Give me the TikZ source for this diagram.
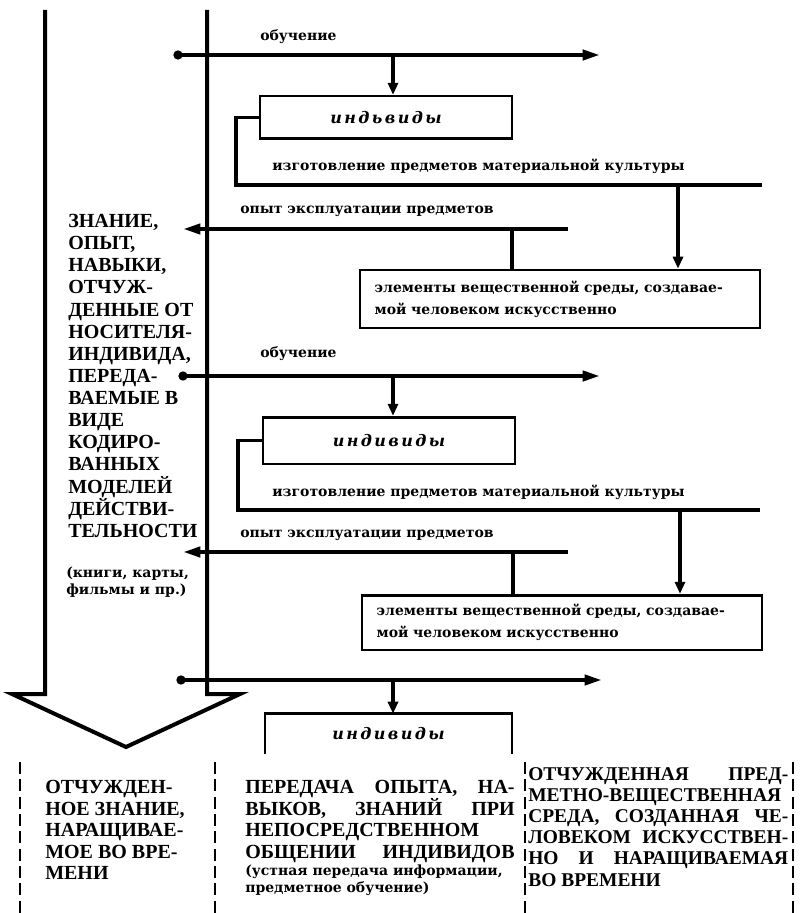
\documentclass[tikz,border=0pt]{standalone}
\usepackage{fontspec}
\setmainfont{Liberation Serif}
\newfontfamily\labelfont{DejaVu Serif}
\newfontfamily\indfont[LetterSpace=15]{DejaVu Serif}
\usetikzlibrary{arrows.meta}

\begin{document}
\begin{tikzpicture}[x=0.75pt, y=-0.75pt,
        axis/.style={line width=3pt},
        link/.style={line width=2.5pt},
        frame/.style={line width=2pt},
        harr/.style={line width=3pt, -{Triangle[length=13pt, width=7.5pt]}},
        varr/.style={line width=2.5pt, -{Triangle[length=9pt, width=7.5pt]}},
        dot/.style={shape=circle, fill=black, inner sep=0pt, minimum size=7pt},
        box/.style={draw, frame, inner sep=0pt},
        ind/.style={font=\indfont\bfseries\itshape\fontsize{12}{14}\selectfont},
        small/.style={font=\labelfont\bfseries\fontsize{10.5}{16.5}\selectfont},
        lbl/.style={small, inner sep=0pt, anchor=west},
        caps/.style={font=\bfseries\fontsize{15}{16.2}\selectfont, inner sep=0pt, anchor=north west},
        note/.style={font=\labelfont\bfseries\fontsize{10.5}{12.5}\selectfont, inner sep=0pt, anchor=north west},
        sep/.style={line width=2pt, dash pattern=on 9pt off 4pt}]

        \useasboundingbox (0,0) rectangle (799,913);

        \draw[axis, line join=miter] (45,10) -- (45,694) -- (12,694) -- (126,747) -- (240,694) -- (207,694) -- (207,10);

        \node[caps, align=left, font=\bfseries\fontsize{15}{16.6}\selectfont] (know) at (68,214) {ЗНАНИЕ,\\ОПЫТ,\\НАВЫКИ,\\ОТЧУЖ-\\ДЕННЫЕ ОТ\\НОСИТЕЛЯ-\\ИНДИВИДА,\\ПЕРЕДА-\\ВАЕМЫЕ В\\ВИДЕ\\КОДИРО-\\ВАННЫХ\\МОДЕЛЕЙ\\ДЕЙСТВИ-\\ТЕЛЬНОСТИ};
        \node[note, align=left] (books) at (66,567) {(книги, карты,\\фильмы и пр.)};

        \node[lbl] (ob1) at (260,37) {обучение};
        \node[dot] (d1) at (178,55) {};
        \coordinate (e1) at (600,55);
        \coordinate (t1) at (393,55);
        \draw[harr] (d1.center) -- (e1);
        \node[box, ind, minimum width=189pt, minimum height=32pt] (ind1) at (386,117.5) {индьвиды};
        \draw[varr] (t1) -- (t1 |- ind1.north);
        \coordinate (k1) at (236,185);
        \coordinate (k1e) at (762,185);
        \draw[link] (ind1.west) -| (k1) -- (k1e);
        \node[lbl] (mk1) at (272,166) {изготовление предметов материальной культуры};
        \node[box, small, align=left, text width=278pt, inner xsep=11pt, minimum height=43.5pt] (el1) at (560,299) {элементы вещественной среды, создавае-\\мой человеком искусственно};
        \coordinate (t2) at (678,185);
        \draw[varr] (t2) -- (t2 |- el1.north);
        \node[lbl] (op1) at (240,211) {опыт эксплуатации предметов};
        \coordinate (s1) at (568,229);
        \coordinate (s1e) at (183,229);
        \coordinate (v1) at (512,229);
        \draw[harr] (s1) -- (s1e);
        \draw[link] (v1) -- (v1 |- el1.north);

        \node[lbl] (ob2) at (260,354) {обучение};
        \node[dot] (d2) at (183,376) {};
        \coordinate (e2) at (600,376);
        \coordinate (t3) at (393,376);
        \draw[harr] (d2.center) -- (e2);
        \node[box, ind, minimum width=189pt, minimum height=35pt] (ind2) at (389,440.5) {индивиды};
        \draw[varr] (t3) -- (t3 |- ind2.north);
        \coordinate (k2) at (238,510);
        \coordinate (k2e) at (760,510);
        \draw[link] (ind2.west) -| (k2) -- (k2e);
        \node[lbl] (mk2) at (272,492) {изготовление предметов материальной культуры};
        \node[box, small, align=left, text width=278pt, inner xsep=11pt, minimum height=41pt] (el2) at (562,622.5) {элементы вещественной среды, создавае-\\мой человеком искусственно};
        \coordinate (t4) at (680,510);
        \draw[varr] (t4) -- (t4 |- el2.north);
        \node[lbl] (op2) at (240,535) {опыт эксплуатации предметов};
        \coordinate (s2) at (568,552);
        \coordinate (s2e) at (183,552);
        \coordinate (v2) at (513,552);
        \draw[harr] (s2) -- (s2e);
        \draw[link] (v2) -- (v2 |- el2.north);

        \node[dot] (d3) at (181,680) {};
        \coordinate (e3) at (602,680);
        \coordinate (t5) at (393,680);
        \draw[harr] (d3.center) -- (e3);
        \node[ind, minimum width=185pt, minimum height=30pt, inner sep=0pt] (ind3) at (388.5,734) {индивиды};
        \draw[varr] (t5) -- (t5 |- ind3.north);
        \draw[frame] (ind3.south west) -- (ind3.north west) -- (ind3.north east) -- (ind3.south east);

        \draw[sep] (20,762) -- (20,913);
        \draw[sep] (215,762) -- (215,913);
        \draw[sep] (525,762) -- (525,913);
        \draw[sep] (793,762) -- (793,913);

        \node[caps, align=left] (col1) at (45,780) {ОТЧУЖДЕН-\\НОЕ ЗНАНИЕ,\\НАРАЩИВАЕ-\\МОЕ ВО ВРЕ-\\МЕНИ};
        \node[caps, align=justify, text width=202pt] (col2) at (245,780) {ПЕРЕДАЧА ОПЫТА, НА-\linebreak ВЫКОВ, ЗНАНИЙ ПРИ\linebreak НЕПОСРЕДСТВЕННОМ\newline ОБЩЕНИИ\hfill ИНДИВИДОВ};
        \node[note, align=left] (col2b) at (245,865) {(устная передача информации,\\предметное обучение)};
        \node[caps, align=justify, text width=195pt, font=\bfseries\fontsize{14.6}{15.9}\selectfont] (col3) at (528,767) {ОТЧУЖДЕННАЯ ПРЕД-\linebreak МЕТНО-ВЕЩЕСТВЕННАЯ\newline СРЕДА, СОЗДАННАЯ ЧЕ-\linebreak ЛОВЕКОМ ИСКУССТВЕН-\linebreak НО И НАРАЩИВАЕМАЯ\linebreak ВО ВРЕМЕНИ};
\end{tikzpicture}
\end{document}
